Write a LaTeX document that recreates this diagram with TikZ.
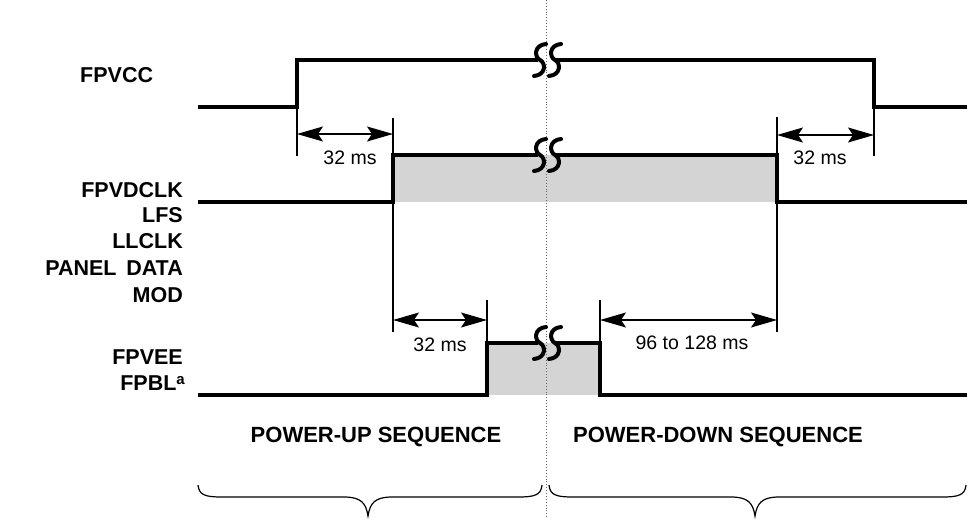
\documentclass[tikz,border=0pt]{standalone}
\usepackage{fontspec}
\setmainfont{Liberation Sans}
\usetikzlibrary{arrows.meta}
\begin{document}
\begin{tikzpicture}[x=1pt,y=-1pt,
  sig/.style={line width=3.8pt, line join=miter, line cap=butt},
  tick/.style={line width=1.2pt},
  dim/.style={line width=1.3pt, {Stealth[length=26pt,width=15pt,inset=5pt]}-{Stealth[length=26pt,width=15pt,inset=5pt]}},
  lab/.style={font=\fontsize{21.5}{24}\selectfont\bfseries, inner sep=0pt, anchor=east},
  ms/.style={font=\fontsize{19.5}{22}\selectfont, inner sep=0pt},
  head/.style={font=\fontsize{22}{25}\selectfont\bfseries, inner sep=0pt},
  shade/.style={fill=black!17},
  brk/.style={line width=4pt, line cap=round},
  brace/.style={line width=1.2pt}]
\useasboundingbox (0,0) rectangle (976,519);

% shaded regions
\fill[shade] (393,155) rectangle (777,202);
\fill[shade] (487,343) rectangle (600,395);

% dotted centre line
\draw[black!60, dotted, line width=0.9pt] (546,0) -- (546,519);

% ticks (extension lines)
\coordinate (t1a) at (297,107); \coordinate (t1b) at (297,156);
\coordinate (t2a) at (393,118); \coordinate (t2b) at (393,332);
\coordinate (t3a) at (777,117); \coordinate (t3b) at (777,332);
\coordinate (t4a) at (874,107); \coordinate (t4b) at (874,156);
\coordinate (t5a) at (487,300); \coordinate (t5b) at (487,343);
\coordinate (t6a) at (600,300); \coordinate (t6b) at (600,343);
\draw[tick] (t1a) -- (t1b);
\draw[tick] (t2a) -- (t2b);
\draw[tick] (t3a) -- (t3b);
\draw[tick] (t4a) -- (t4b);
\draw[tick] (t5a) -- (t5b);
\draw[tick] (t6a) -- (t6b);

% signals
\draw[sig] (198,107) -- (297,107) -- (297,60) -- (538,60);
\draw[sig] (556,60) -- (874,60) -- (874,107) -- (967,107);
\draw[sig] (198,202) -- (393,202) -- (393,155) -- (538,155);
\draw[sig] (556,155) -- (777,155) -- (777,202) -- (967,202);
\draw[sig] (198,395) -- (487,395) -- (487,343) -- (538,343);
\draw[sig] (556,343) -- (600,343) -- (600,395) -- (967,395);

% break symbols
\foreach \y in {60,155,343}{
  \foreach \x in {540,555}{
    \draw[brk] (\x+6,\y-16) .. controls (\x-6,\y-15) and (\x-6,\y-3) .. (\x,\y)
               .. controls (\x+6,\y+3) and (\x+6,\y+15) .. (\x-6,\y+16);
  }
}

% dimension arrows
\coordinate (a1l) at (297,134); \coordinate (a1r) at (393,134);
\coordinate (a2l) at (777,135); \coordinate (a2r) at (874,135);
\coordinate (a3l) at (393,320); \coordinate (a3r) at (487,320);
\coordinate (a4l) at (600,320); \coordinate (a4r) at (777,320);
\draw[dim] (a1l) -- (a1r);
\draw[dim] (a2l) -- (a2r);
\draw[dim] (a3l) -- (a3r);
\draw[dim] (a4l) -- (a4r);
\node[ms] (m1) at (350,158) {32 ms};
\node[ms] (m2) at (820,158) {32 ms};
\node[ms] (m3) at (440,345) {32 ms};
\node[ms] (m4) at (692,343) {96 to 128 ms};

% signal labels
\node[lab, anchor=west] (l1) at (80,75) {FPVCC};
\node[lab] (l2) at (183,190) {FPVDCLK};
\node[lab] (l3) at (183,215) {LFS};
\node[lab] (l4) at (183,241) {LLCLK};
\node[lab] (l5) at (183,268) {PANEL\hspace{0.45em}DATA};
\node[lab] (l6) at (183,295) {MOD};
\node[lab] (l7) at (183,357) {FPVEE};
\node[lab] (l8) at (185,383) {FPBL\raisebox{0.55ex}{\fontsize{15}{15}\selectfont a}};

% sequence headings
\node[head] (h1) at (376,437) {POWER-UP SEQUENCE};
\node[head] (h2) at (718,437) {POWER-DOWN SEQUENCE};

% braces
\draw[brace] (198,485) .. controls (199,495) and (205,497) .. (222,497) -- (344,497)
  .. controls (361,497) and (366,503) .. (368,516)
  .. controls (370,503) and (375,497) .. (392,497) -- (518,497)
  .. controls (535,497) and (541,495) .. (542,485);
\draw[brace] (549,485) .. controls (550,495) and (556,497) .. (573,497) -- (731,497)
  .. controls (748,497) and (753,503) .. (755,516)
  .. controls (757,503) and (762,497) .. (779,497) -- (942,497)
  .. controls (959,497) and (965,495) .. (966,485);
\end{tikzpicture}
\end{document}
